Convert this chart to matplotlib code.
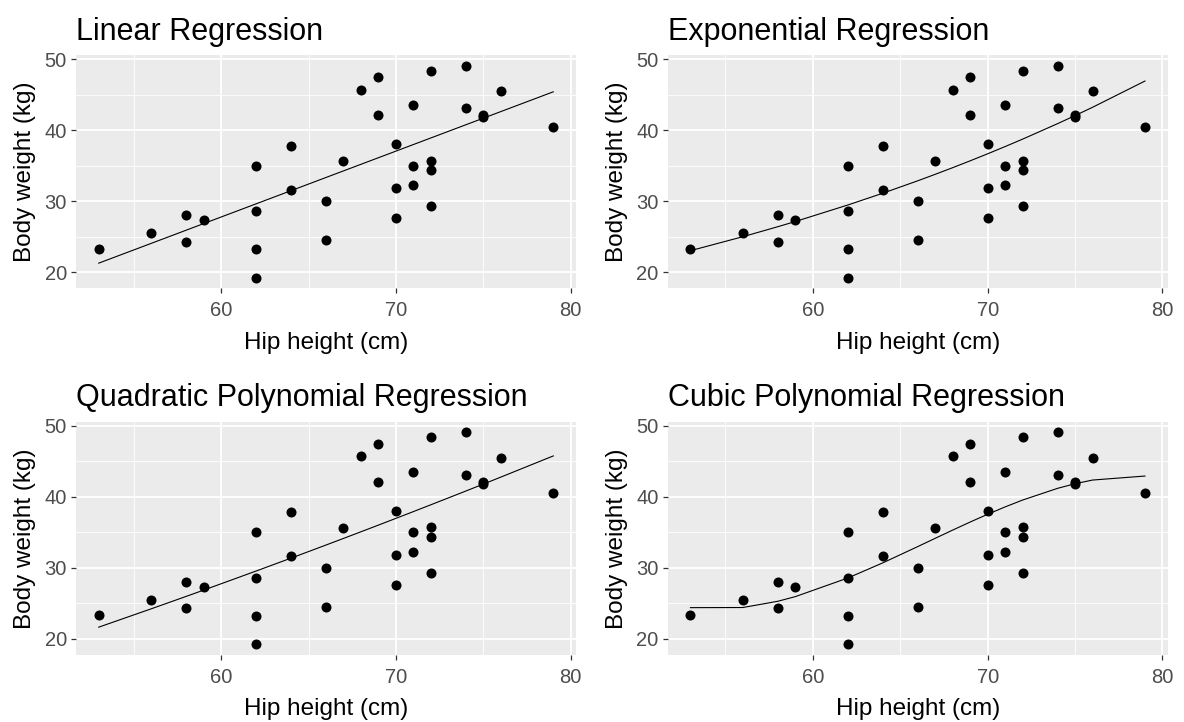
import numpy as np
import matplotlib
matplotlib.use("Agg")
import matplotlib.pyplot as plt
from matplotlib.ticker import MultipleLocator

# Data
hip_height = [53, 56, 58, 58, 59, 62, 62, 62, 62, 64, 64, 66, 66, 67, 68, 69, 69,
              70, 70, 70, 71, 71, 71, 72, 72, 72, 72, 74, 74, 75, 75, 76, 79]
body_weight = [23.3, 25.5, 28.0, 24.3, 27.3, 35.0, 28.6, 23.2, 19.2, 37.8, 31.6, 30.0, 24.5,
               35.6, 45.7, 47.5, 42.1, 38.0, 31.8, 27.6, 43.5, 35.0, 32.2, 48.4, 35.7, 34.4,
               29.3, 49.1, 43.1, 42.1, 41.8, 45.5, 40.5]
titles = ["Linear Regression", "Exponential Regression",
          "Quadratic Polynomial Regression", "Cubic Polynomial Regression"]
x_label = "Hip height (cm)"
y_label = "Body weight (kg)"
x_ticks = [60, 70, 80]
y_ticks = [20, 30, 40, 50]

x = np.array(hip_height, dtype=float)
y = np.array(body_weight, dtype=float)
xs = np.sort(x)


def exp_nls():
    # y = a * exp(b * x), least squares in original scale (Gauss-Newton)
    b, la = np.polyfit(x, np.log(y), 1)
    a = np.exp(la)
    for _ in range(200):
        e = np.exp(b * x)
        f = a * e
        J = np.column_stack([e, a * x * e])
        step, *_ = np.linalg.lstsq(J, y - f, rcond=None)
        a += step[0]
        b += step[1]
    return a * np.exp(b * xs)


def fitted(kind):
    if kind == 0:
        return np.polyval(np.polyfit(x, y, 1), xs)
    if kind == 1:
        return exp_nls()
    if kind == 2:
        return np.polyval(np.polyfit(x, y, 2), xs)
    return np.polyval(np.polyfit(x, y, 3), xs)


plt.rcParams['font.family'] = ['Liberation Sans', 'DejaVu Sans']
W, H = 1184, 722
fig = plt.figure(figsize=(W / 100, H / 100), dpi=100)

panel_w = 500 / W
panel_h = 233.3 / H
lefts = [76 / W, 667.7 / W]
bottoms = [(H - 288.3) / H, (H - 655) / H]

xr = x.max() - x.min()
yr = y.max() - y.min()

for i, title in enumerate(titles):
    r, c = divmod(i, 2)
    ax = fig.add_axes([lefts[c], bottoms[r], panel_w, panel_h])
    ax.set_facecolor('#EBEBEB')
    ax.set_xlim(x.min() - 0.05 * xr, x.max() + 0.05 * xr)
    ax.set_ylim(y.min() - 0.05 * yr, y.max() + 0.05 * yr)
    ax.set_xticks(x_ticks)
    ax.set_yticks(y_ticks)
    ax.xaxis.set_minor_locator(MultipleLocator(5))
    ax.yaxis.set_minor_locator(MultipleLocator(5))
    ax.grid(which='major', color='white', linewidth=1.3)
    ax.grid(which='minor', color='white', linewidth=0.6)
    ax.set_axisbelow(True)
    for s in ax.spines.values():
        s.set_visible(False)
    ax.tick_params(which='major', length=3.5, width=0.9, color='#333333',
                   labelcolor='#4D4D4D', labelsize=14.5)
    ax.tick_params(axis='x', which='major', pad=6)
    ax.tick_params(axis='y', which='major', pad=3)
    ax.tick_params(which='minor', length=0)
    ax.scatter(x, y, s=52, color='black', zorder=3, linewidths=0)
    ax.plot(xs, fitted(i), color='black', linewidth=0.8, zorder=2)
    ax.set_title(title, loc='left', fontsize=22, pad=11, color='black')
    ax.set_xlabel(x_label, fontsize=17.5, labelpad=8)
    ax.set_ylabel(y_label, fontsize=17.5, labelpad=6)

fig.savefig('out.png', dpi=100)
